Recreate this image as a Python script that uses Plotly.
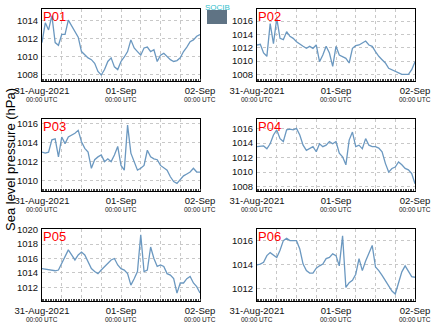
import plotly.graph_objects as go
import pandas as pd

hours = list(range(49))
times = pd.Timestamp("2021-08-31 00:00") + pd.to_timedelta(hours, unit="h")

station_names = ["P01", "P02", "P03", "P04", "P05", "P06"]

p01 = [1011.6, 1013.8, 1013.0, 1014.6, 1011.6, 1011.3, 1012.5, 1012.5, 1014.1, 1013.5,
       1012.8, 1012.2, 1010.6, 1010.2, 1009.9, 1009.7, 1009.3, 1008.4, 1008.0, 1008.6,
       1009.5, 1009.9, 1008.9, 1008.6, 1009.5, 1010.0, 1010.6, 1011.9, 1011.0, 1010.6,
       1010.2, 1011.0, 1011.1, 1010.6, 1010.8, 1009.5, 1010.2, 1010.4, 1010.0, 1009.7,
       1009.5, 1009.6, 1009.9, 1010.6, 1011.1, 1011.7, 1011.9, 1012.3, 1012.5]
p02 = [1012.4, 1012.5, 1011.2, 1010.7, 1015.6, 1012.6, 1016.4, 1013.4, 1013.2, 1014.4,
       1013.7, 1013.4, 1012.9, 1012.5, 1012.2, 1011.9, 1012.2, 1011.9, 1012.4, 1009.9,
       1010.9, 1012.2, 1011.2, 1009.2, 1012.2, 1010.9, 1010.7, 1010.4, 1009.7, 1011.9,
       1012.3, 1012.4, 1012.7, 1013.0, 1012.4, 1012.2, 1011.4, 1010.7, 1010.2, 1009.7,
       1008.9, 1008.7, 1008.4, 1008.2, 1008.0, 1008.0, 1008.0, 1008.7, 1009.9]
p03 = [1013.0, 1012.9, 1013.0, 1014.3, 1014.4, 1012.5, 1014.6, 1013.9, 1014.6, 1014.8,
       1015.0, 1015.3, 1014.1, 1013.4, 1013.0, 1011.3, 1012.2, 1012.5, 1012.7, 1012.0,
       1012.3, 1012.0, 1012.7, 1013.6, 1011.6, 1011.1, 1015.85, 1012.9, 1012.0, 1011.1,
       1011.3, 1011.6, 1013.2, 1012.5, 1012.3, 1012.2, 1011.6, 1011.3, 1011.1, 1010.4,
       1009.9, 1009.7, 1010.1, 1010.5, 1010.7, 1010.9, 1011.3, 1010.9, 1010.9]
p04 = [1013.5, 1013.5, 1013.6, 1013.2, 1013.9, 1015.1, 1015.8, 1014.6, 1014.2, 1015.8,
       1015.9, 1015.8, 1016.0, 1015.1, 1013.7, 1013.0, 1013.2, 1013.5, 1012.8, 1013.9,
       1013.5, 1013.7, 1014.2, 1013.9, 1014.2, 1012.6, 1012.1, 1011.0, 1014.4, 1015.5,
       1013.5, 1013.7, 1013.2, 1014.6, 1013.7, 1013.5, 1013.5, 1013.3, 1012.8, 1011.2,
       1010.0, 1010.5, 1010.7, 1011.4, 1011.0, 1010.5, 1010.3, 1009.8, 1008.4]
p05 = [1014.6, 1014.5, 1014.4, 1014.4, 1014.3, 1014.4, 1015.3, 1016.3, 1017.2, 1016.5,
       1015.8, 1016.5, 1016.9, 1016.5, 1015.6, 1014.6, 1014.2, 1013.9, 1014.4, 1014.9,
       1015.3, 1015.8, 1016.0, 1015.1, 1014.6, 1014.4, 1013.9, 1012.3, 1013.2, 1014.2,
       1019.3, 1014.2, 1014.4, 1017.6, 1016.0, 1014.9, 1015.1, 1014.9, 1013.9, 1013.7,
       1013.2, 1011.2, 1012.6, 1012.6, 1013.2, 1013.5, 1012.6, 1012.1, 1011.2]
p06 = [1013.97, 1014.05, 1014.2, 1014.75, 1015.0, 1014.8, 1014.6, 1015.2, 1016.0, 1016.2,
       1016.0, 1016.0, 1016.0, 1015.3, 1014.05, 1013.5, 1013.3, 1013.3, 1013.7, 1013.9,
       1014.05, 1014.5, 1014.6, 1014.9, 1014.75, 1013.9, 1016.4, 1012.1, 1012.5, 1012.7,
       1013.2, 1014.5, 1013.5, 1014.3, 1015.0, 1015.6, 1013.8, 1013.5, 1013.1, 1012.7,
       1012.25, 1011.8, 1011.55, 1012.4, 1013.4, 1013.9, 1013.4, 1013.0, 1012.95]

series = [p01, p02, p03, p04, p05, p06]
y_ranges = [[1007.33, 1015.33], [1007.0, 1017.8], [1008.9, 1016.5],
            [1007.4, 1017.3], [1010.1, 1020.1], [1010.97, 1016.97]]

date_labels = ["31-Aug-2021", "01-Sep", "02-Sep"]
time_label = "00:00 UTC"

W, H = 434, 327
col_px = [(42, 200), (257, 415)]
row_px = [(9, 81), (119, 191), (229, 301)]
FONT = "Liberation Sans, Arial, sans-serif"

grid_ticks = pd.date_range("2021-08-31 00:00", "2021-09-02 00:00", freq="6h")
label_ticks = [grid_ticks[0], grid_ticks[4], grid_ticks[8]]
ticktext = []
for i, t in enumerate(grid_ticks):
    ticktext.append(date_labels[i // 4] if i % 4 == 0 else "")

fig = go.Figure()
layout = dict(
    width=W, height=H,
    margin=dict(l=0, r=0, t=0, b=0, autoexpand=False),
    paper_bgcolor="white", plot_bgcolor="white",
    showlegend=False,
    font=dict(family=FONT, size=10, color="black"),
)
annotations = []
shapes = []
for i, (name, vals) in enumerate(zip(station_names, series)):
    r, c = divmod(i, 2)
    x0, x1 = col_px[c]
    y0, y1 = row_px[r]
    sfx = "" if i == 0 else str(i + 1)
    fig.add_trace(go.Scatter(x=times, y=vals, mode="lines",
                             line=dict(color="#6b98c0", width=1.3),
                             xaxis="x" + sfx, yaxis="y" + sfx))
    layout["xaxis" + sfx] = dict(
        domain=[x0 / W, x1 / W], anchor="y" + sfx, automargin=False,
        range=[grid_ticks[0], grid_ticks[-1]],
        tickmode="array", tickvals=list(grid_ticks), ticktext=ticktext,
        showgrid=True, gridcolor="#c8c8c8", griddash="dot", gridwidth=1,
        showline=True, linecolor="black", linewidth=1, mirror=True,
        ticks="", tickfont=dict(family=FONT, size=9.5, color="#111"),
        ticklabelstandoff=1,
        minor=dict(dtick=1800000, ticks="inside", ticklen=2, tickcolor="#444", showgrid=False),
        zeroline=False,
    )
    layout["yaxis" + sfx] = dict(
        domain=[1 - y1 / H, 1 - y0 / H], anchor="x" + sfx, automargin=False,
        range=y_ranges[i], dtick=2, tick0=1000,
        showgrid=True, gridcolor="#c8c8c8", griddash="dot", gridwidth=1,
        showline=True, linecolor="black", linewidth=1, mirror=True,
        ticks="", tickfont=dict(family=FONT, size=9.5, color="#111"),
        ticklabelstandoff=1, zeroline=False,
    )
    annotations.append(dict(text=name, xref="x" + sfx + " domain", yref="y" + sfx + " domain",
                            x=0.0, y=1.0, xanchor="left", yanchor="top", showarrow=False,
                            yshift=2, xshift=-1, font=dict(family=FONT, size=13, color="red")))
    for t in label_ticks:
        annotations.append(dict(text=time_label, xref="x" + sfx, yref="y" + sfx + " domain",
                                x=t, y=0, yshift=-13, xanchor="center", yanchor="top",
                                showarrow=False, font=dict(family=FONT, size=6.5, color="#111")))

annotations.append(dict(text="Sea level pressure (hPa)", xref="paper", yref="paper",
                        x=10 / W, y=1 - 160 / H, textangle=-90, showarrow=False,
                        xanchor="center", yanchor="middle",
                        font=dict(family=FONT, size=13, color="black")))
annotations.append(dict(text="SOCIB", xref="paper", yref="paper",
                        x=217 / W, y=1 - 1 / H, xanchor="center", yanchor="top", showarrow=False,
                        font=dict(family=FONT, size=8, color="#33c0cc")))
shapes.append(dict(type="rect", xref="paper", yref="paper",
                   x0=207 / W, x1=227 / W, y0=1 - 24 / H, y1=1 - 10 / H,
                   fillcolor="#5f7384", line=dict(width=0)))
layout["annotations"] = annotations
layout["shapes"] = shapes
fig.update_layout(**layout)
fig.write_html("out.html")
